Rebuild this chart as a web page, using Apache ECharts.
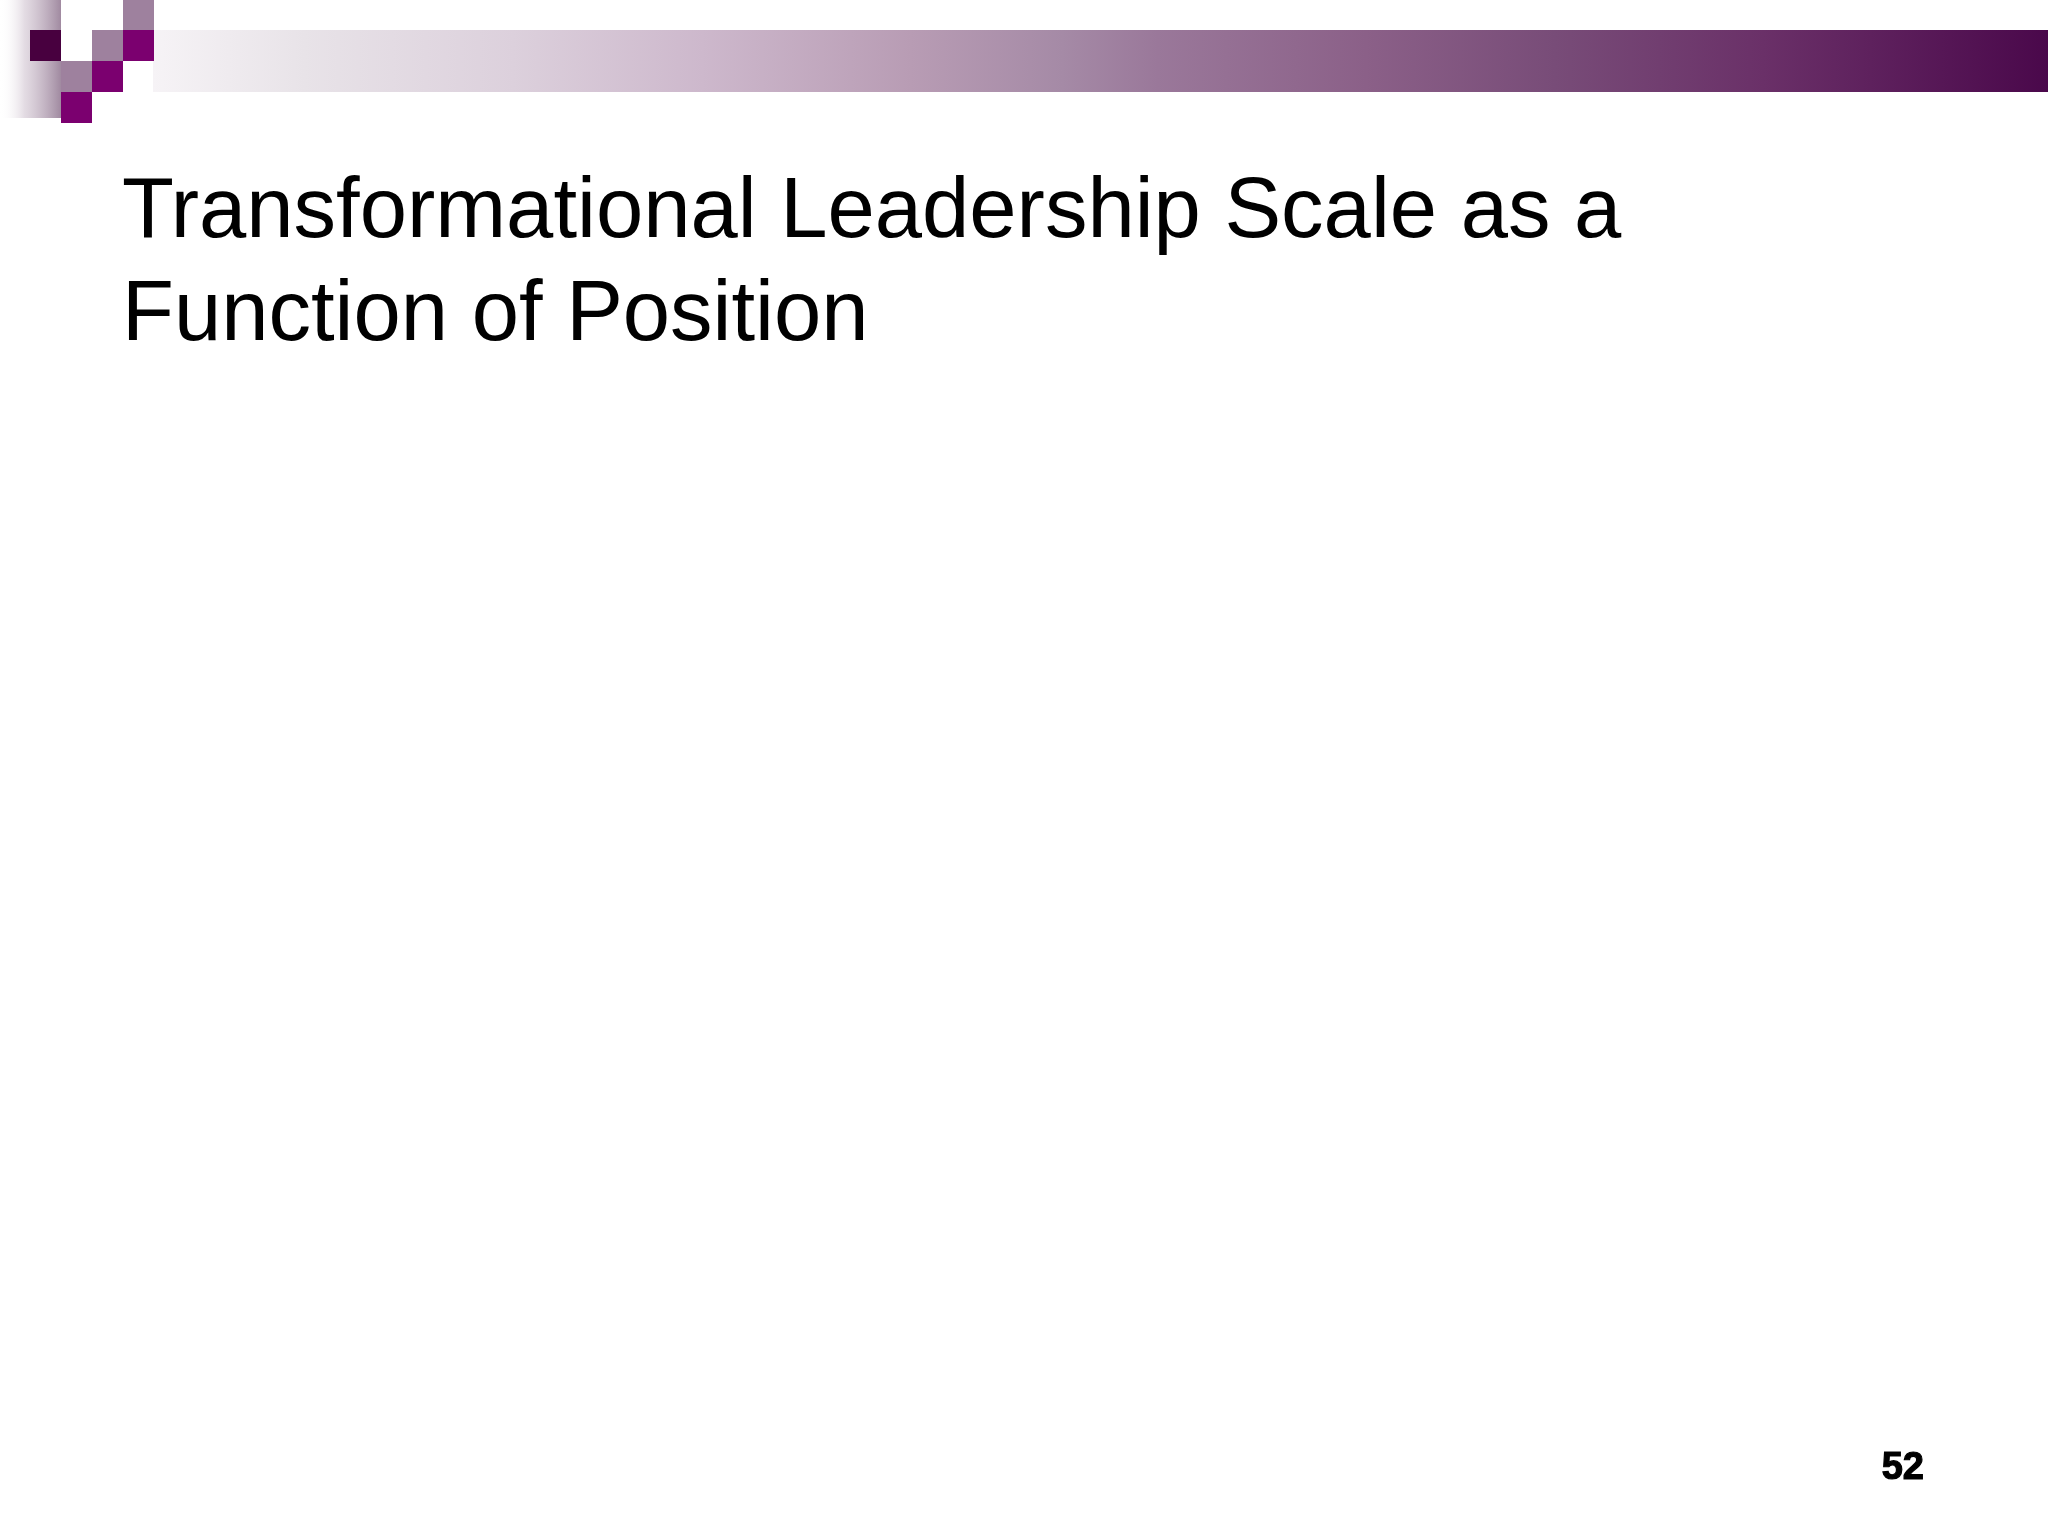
<!DOCTYPE html>
<html>
<head>
<meta charset="utf-8">
<script src="https://cdn.jsdelivr.net/npm/echarts@6/dist/echarts.min.js"></script>
<style>
html,body{margin:0;padding:0;background:#fff;}
#chart{width:2048px;height:1536px;}
</style>
</head>
<body>
<div id="chart"></div>
<script>
// Slide content (the reference slide contains no plotted data)
var titleLines = ['Transformational Leadership Scale as a', 'Function of Position'];
var pageNumber = ['52'];
var categories = [];
var seriesValues = [];

var chart = echarts.init(document.getElementById('chart'), null, {renderer: 'canvas'});

var barGradient = new echarts.graphic.LinearGradient(0, 0, 1, 0, [
  {offset: 0.00, color: '#f6f3f6'},
  {offset: 0.08, color: '#e8e3e8'},
  {offset: 0.19, color: '#dcd0dc'},
  {offset: 0.29, color: '#cdb8cc'},
  {offset: 0.40, color: '#b89cb4'},
  {offset: 0.48, color: '#a58aa6'},
  {offset: 0.53, color: '#9a789a'},
  {offset: 0.64, color: '#8b6088'},
  {offset: 0.74, color: '#784c78'},
  {offset: 0.85, color: '#6a3068'},
  {offset: 1.00, color: '#4a084b'}
]);

var shadowGradient = new echarts.graphic.LinearGradient(0, 0, 1, 0, [
  {offset: 0, color: 'rgba(255,255,255,0)'},
  {offset: 0.4, color: 'rgba(200,185,200,0.5)'},
  {offset: 1, color: 'rgba(150,125,150,0.9)'}
]);

var sq = 31;
var squares = [
  {x: 123, y: 0,  c: '#9e819e'},
  {x: 30,  y: 30, c: '#48003f'},
  {x: 92,  y: 30, c: '#9e819e'},
  {x: 123, y: 30, c: '#7b006f'},
  {x: 61,  y: 61, c: '#9e819e'},
  {x: 92,  y: 61, c: '#7b006f'},
  {x: 61,  y: 92, c: '#7b006f'}
];

var graphics = [
  {type: 'rect', shape: {x: 0, y: 0, width: 2048, height: 1536}, style: {fill: '#ffffff'}, z: 0},
  {type: 'rect', shape: {x: 0, y: 0, width: 61, height: 118}, style: {fill: shadowGradient}, z: 1},
  {type: 'rect', shape: {x: 153, y: 30, width: 1895, height: 62}, style: {fill: barGradient}, z: 1}
];
squares.forEach(function (s) {
  graphics.push({type: 'rect', shape: {x: s.x, y: s.y, width: sq, height: sq}, style: {fill: s.c}, z: 2});
});
titleLines.forEach(function (t, i) {
  graphics.push({
    type: 'text', x: 122, y: 256 + i * 103, z: 3,
    style: {text: t, fill: '#000', font: '85px "Liberation Sans", Arial, sans-serif', verticalAlign: 'bottom'}
  });
});
graphics.push({
  type: 'text', x: 1924, y: 1450, z: 3,
  style: {text: pageNumber[0], fill: '#000', font: 'bold 38px "Liberation Sans", Arial, sans-serif', align: 'right', verticalAlign: 'top',
          stroke: '#000', lineWidth: 1.2}
});

chart.setOption({
  animation: false,
  backgroundColor: '#ffffff',
  graphic: graphics,
  series: []
});
</script>
</body>
</html>
